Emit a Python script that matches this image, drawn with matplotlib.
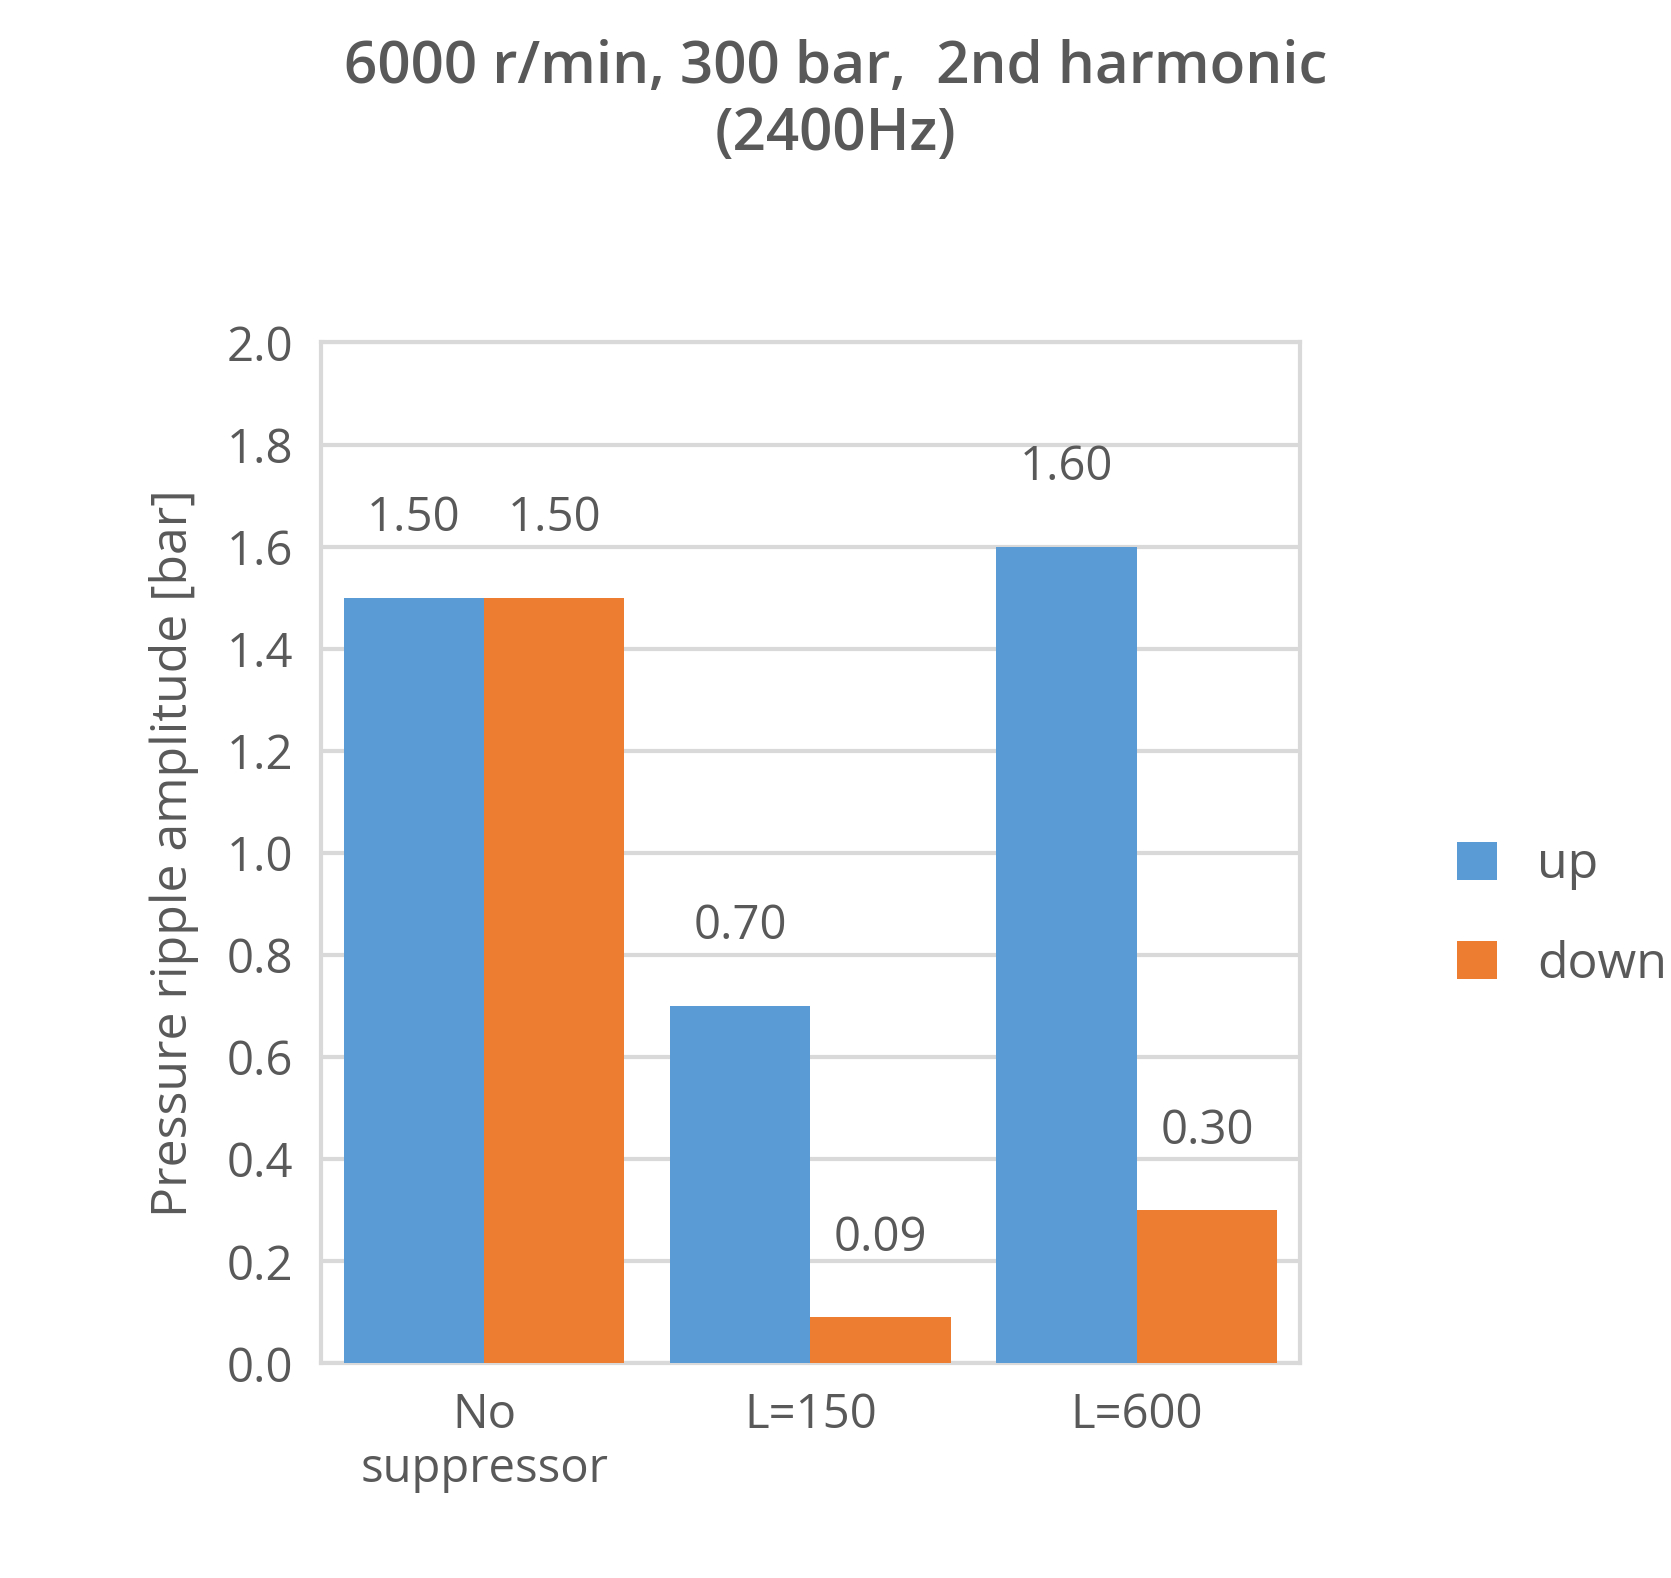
import matplotlib.pyplot as plt
import numpy as np

categories = ['No\nsuppressor', 'L=150', 'L=600']
up = [1.50, 0.70, 1.60]
down = [1.50, 0.09, 0.30]

grey = '#595959'
plt.rcParams['font.family'] = ['Open Sans', 'DejaVu Sans']

fig = plt.figure(figsize=(16.71, 15.78), dpi=100)
ax = fig.add_axes([0.192, 0.136, 0.586, 0.647])

x = np.arange(len(categories))
w = 0.43
b1 = ax.bar(x - w / 2, up, w, color='#5b9bd5', label='up', zorder=3)
b2 = ax.bar(x + w / 2, down, w, color='#ed7d31', label='down', zorder=3)
for bars in (b1, b2):
    for r in bars:
        ax.annotate('%.2f' % r.get_height(), (r.get_x() + r.get_width() / 2, r.get_height()),
                    xytext=(0, 40), textcoords='offset points', ha='center', va='bottom',
                    fontsize=34, color=grey)

ax.set_xlim(-0.5, 2.5)
ax.set_ylim(0, 2.0)
ax.set_yticks(np.arange(0, 2.01, 0.2))
ax.set_yticklabels(['%.1f' % v for v in np.arange(0, 2.01, 0.2)])
ax.set_xticks(x)
ax.set_xticklabels(categories)
ax.tick_params(axis='both', length=0, labelsize=34, labelcolor=grey, pad=20)
ax.grid(axis='y', color='#d9d9d9', linewidth=3, zorder=0)
for s in ax.spines.values():
    s.set_color('#d9d9d9')
    s.set_linewidth(3)
ax.set_ylabel('Pressure ripple amplitude [bar]', fontsize=36, color=grey, labelpad=20)
fig.suptitle('6000 r/min, 300 bar,  2nd harmonic\n(2400Hz)', fontsize=42, color=grey,
             fontweight='semibold', y=0.975)
fig.legend(loc='center left', bbox_to_anchor=(0.845, 0.42), frameon=False, fontsize=36,
           labelcolor=grey, handlelength=0.8, handleheight=0.8, labelspacing=1.0)
fig.savefig('out.png')
